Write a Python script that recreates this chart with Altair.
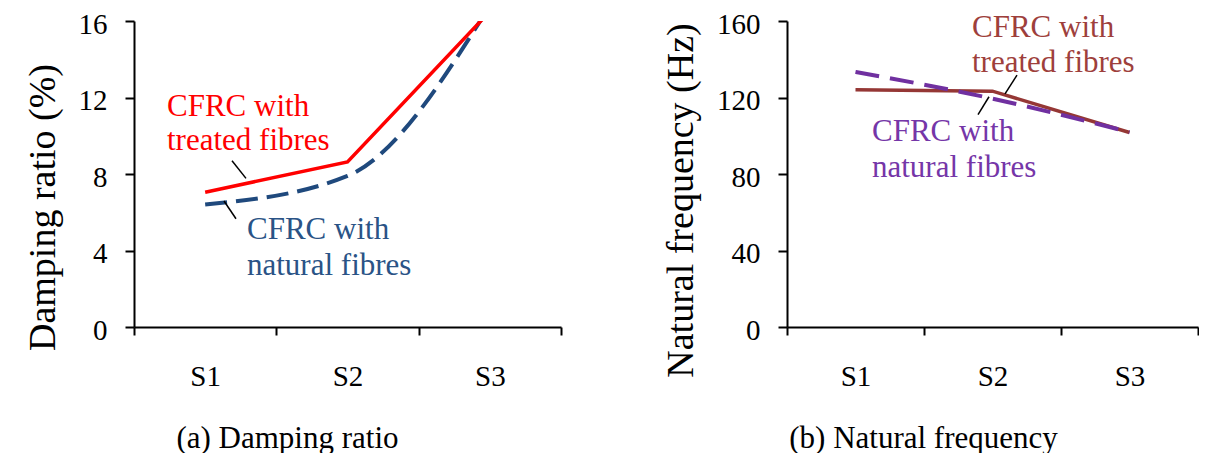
import altair as alt
import pandas as pd

categories = ["S1", "S2", "S3"]
damping_treated = [7.05, 8.63, 16.5]
damping_natural = [6.4, 7.9, 16.8]
freq_treated = [124.0, 123.3, 101.7]
freq_natural = [133.4, 119.4, 101.9]

FONT = "Liberation Serif"


def xenc(title, title_x):
    return alt.X(
        "cat:N",
        sort=categories,
        bandPosition=0.5,
        scale=alt.Scale(type="band", paddingInner=0, paddingOuter=0),
        axis=alt.Axis(
            title=title, tickBand="extent", labelAngle=0, tickSize=8, tickWidth=2,
            domainWidth=2, labelFontSize=29, labelPadding=27, labelFont=FONT,
            titleFontSize=31, titleFontWeight="normal", titleX=title_x, titleY=120,
            titleAlign="center", titleBaseline="alphabetic", grid=False, titleFont=FONT,
        ),
    )


def yenc(title, domain, values, title_x, title_y):
    return alt.Y(
        "val:Q",
        scale=alt.Scale(domain=domain, nice=False),
        axis=alt.Axis(
            title=title, values=values, tickSize=9, tickWidth=2, domainWidth=2,
            labelFontSize=29, labelPadding=18, labelOffset=3, labelFont=FONT,
            titleFontSize=38, titleFontWeight="normal", titleX=title_x, titleY=title_y,
            titleAlign="center", titleBaseline="alphabetic", grid=False, titleFont=FONT,
        ),
    )


def text(t, x, yv, color):
    return alt.Chart().mark_text(
        text=t, align="left", baseline="alphabetic", font=FONT, fontSize=31, color=color
    ).encode(x=alt.value(x), y=alt.datum(yv))


def leader(x1, x2, y1, y2):
    return alt.Chart().mark_rule(color="black", strokeWidth=1.5).encode(
        x=alt.value(x1), x2=alt.value(x2), y=alt.datum(y1), y2=alt.datum(y2)
    )


# ---------- panel (a) ----------
da_t = pd.DataFrame({"cat": categories, "val": damping_treated})
da_n = pd.DataFrame({"cat": categories, "val": damping_natural})

xa = xenc("(a) Damping ratio", 153)
ya = yenc("Damping ratio (%)", [0, 16], [0, 4, 8, 12, 16], -80, 186)

a_nat = alt.Chart(da_n).mark_line(
    color="#1F497D", strokeWidth=4, strokeDash=[22, 9], interpolate="monotone", clip=True
).encode(x=xa, y=ya)
a_trt = alt.Chart(da_t).mark_line(
    color="#FF0000", strokeWidth=3.5, clip=True
).encode(x=xa, y=ya)

panel_a = alt.layer(
    a_nat, a_trt,
    text("CFRC with", 33, 11.01, "#FF0000"),
    text("treated fibres", 33, 9.26, "#FF0000"),
    text("CFRC with", 113, 4.58, "#2A5386"),
    text("natural fibres", 113, 2.73, "#2A5386"),
    leader(98, 112, 8.69, 7.77),
    leader(90, 102, 6.59, 5.66),
).properties(width=427, height=306)

# ---------- panel (b) ----------
fb_t = pd.DataFrame({"cat": categories, "val": freq_treated})
fb_n = pd.DataFrame({"cat": categories, "val": freq_natural})

xb = xenc("(b) Natural frequency", 136)
yb = yenc("Natural frequency (Hz)", [0, 160], [0, 40, 80, 120, 160], -95, 179)

b_trt = alt.Chart(fb_t).mark_line(
    color="#953735", strokeWidth=3.5, clip=True
).encode(x=xb, y=yb)
b_nat = alt.Chart(fb_n).mark_line(
    color="#7030A0", strokeWidth=4, strokeDash=[24, 11], interpolate="monotone", clip=True
).encode(x=xb, y=yb)

panel_b = alt.layer(
    b_trt, b_nat,
    text("CFRC with", 185, 151.8, "#9E3F3C"),
    text("treated fibres", 185, 133.2, "#9E3F3C"),
    text("CFRC with", 85, 97.2, "#7536A8"),
    text("natural fibres", 85, 78.2, "#7536A8"),
    leader(230, 218, 131.7, 121.9),
    leader(202, 191, 120.4, 111.1),
).properties(width=411, height=306)

chart = alt.hconcat(panel_a, panel_b, spacing=99).properties(
    padding={"left": 16, "top": 2, "right": 0, "bottom": 0}
).configure(font=FONT).configure_view(stroke=None).configure_axis(
    domainColor="black", tickColor="black", labelColor="black", titleColor="black",
    labelFont=FONT, titleFont=FONT,
)

chart.save("out.html", embed_options={"renderer": "svg", "actions": False})
